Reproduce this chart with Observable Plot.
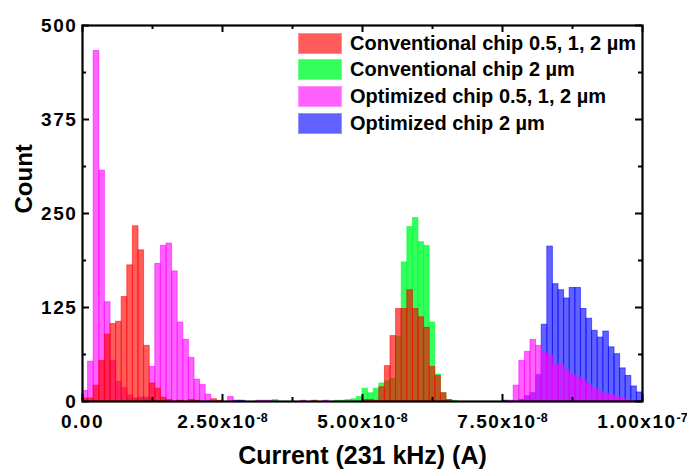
<!DOCTYPE html>
<html>
<head>
<meta charset="utf-8">
<script src="https://cdn.jsdelivr.net/npm/d3@7"></script>
<script src="https://cdn.jsdelivr.net/npm/@observablehq/plot@0.6"></script>
<style>
  html, body { margin: 0; padding: 0; background: #fff; }
  #wrap { position: relative; width: 687px; height: 470px; overflow: hidden; }
  #legend { position: absolute; left: 298px; top: 30px; font-family: "Liberation Sans", Arial, sans-serif; font-weight: bold; font-size: 20px; color: #000; }
  .row { display: flex; align-items: center; height: 26.6px; }
  .sw { width: 44px; height: 21px; box-sizing: border-box; margin-right: 8px; }
</style>
</head>
<body>
<div id="wrap">
  <div id="chart"></div>
  <div id="legend"></div>
</div>
<script>
// Histogram bins: 100 bins of width 1e-9 A from 0 to 1e-7 A
const binWidth = 1e-9;

// Conventional chip 0.5, 1, 2 µm
const conv051 = [
  4, 4, 21, 54, 89, 103, 106, 139, 181, 233,
  201, 74, 24, 17, 5, 2, 0, 1, 0, 2,
  1, 0, 0, 3, 1, 0, 0, 0, 0, 0,
  0, 0, 0, 0, 0, 0, 0, 0, 0, 0,
  0, 1, 0, 0, 0, 0, 0, 0, 0, 0,
  2, 2, 1, 19, 47, 87, 123, 123, 148, 123,
  112, 98, 46, 34, 11, 2, 0, 0, 0, 0,
  0, 0, 0, 0, 0, 0, 0, 0, 0, 0,
  0, 0, 0, 0, 0, 0, 0, 0, 0, 0,
  0, 0, 0, 0, 0, 0, 0, 0, 0, 0
];
// Conventional chip 2 µm
const conv2 = [
  2, 0, 0, 0, 0, 0, 0, 0, 3, 3,
  3, 3, 2, 0, 0, 0, 0, 0, 0, 0,
  0, 0, 0, 0, 0, 0, 0, 0, 0, 0,
  0, 0, 0, 0, 2, 0, 0, 0, 0, 0,
  0, 0, 0, 0, 0, 1, 1, 2, 3, 6,
  17, 11, 17, 24, 27, 30, 86, 185, 232, 244,
  212, 207, 105, 36, 11, 2, 1, 0, 0, 0,
  0, 0, 0, 0, 0, 0, 0, 0, 0, 0,
  0, 0, 0, 0, 0, 0, 0, 0, 0, 0,
  0, 0, 0, 0, 0, 0, 0, 0, 0, 0
];
// Optimized chip 0.5, 1, 2 µm
const opt051 = [
  14, 53, 466, 307, 132, 54, 26, 18, 8, 4,
  5, 5, 46, 183, 207, 210, 173, 105, 82, 58,
  29, 22, 9, 0, 0, 0, 6, 0, 0, 0,
  0, 1, 1, 1, 0, 0, 0, 0, 0, 1,
  0, 0, 0, 1, 0, 0, 0, 0, 0, 0,
  0, 0, 0, 0, 0, 0, 0, 0, 0, 0,
  0, 0, 0, 0, 0, 0, 0, 0, 0, 0,
  0, 0, 0, 0, 0, 0, 1, 21, 54, 66,
  82, 74, 66, 61, 48, 49, 42, 35, 32, 28,
  23, 17, 13, 10, 8, 6, 4, 1, 1, 0
];
// Optimized chip 2 µm
const opt2 = [
  0, 0, 0, 0, 0, 0, 0, 0, 0, 0,
  0, 0, 0, 0, 0, 0, 0, 0, 0, 0,
  0, 0, 0, 0, 0, 0, 0, 1, 1, 0,
  0, 0, 0, 0, 0, 0, 0, 0, 0, 0,
  0, 0, 0, 0, 0, 0, 0, 0, 0, 0,
  0, 0, 0, 0, 0, 0, 0, 0, 0, 0,
  0, 0, 0, 0, 0, 0, 0, 0, 0, 0,
  0, 0, 0, 0, 0, 1, 0, 0, 2, 7,
  11, 35, 102, 206, 156, 148, 137, 151, 151, 123,
  110, 94, 85, 93, 72, 63, 44, 34, 20, 12
];

const seriesNames = ["Conventional chip 0.5, 1, 2 µm", "Conventional chip 2 µm", "Optimized chip 0.5, 1, 2 µm", "Optimized chip 2 µm"];
const seriesColors = ["#FF0000", "#00FF33", "#FF00FF", "#0000FF"];
const seriesOpacity = [0.64, 0.8, 0.62, 0.62];
const seriesValues = [conv051, conv2, opt051, opt2];
const drawOrder = [3, 1, 2, 0]; // blue, green, magenta, red on top

const yTicks = [0, 125, 250, 375, 500];
const yMinorTicks = [62.5, 187.5, 312.5, 437.5];
const xTicks = [0, 2.5e-8, 5e-8, 7.5e-8, 1e-7];
const xMinorTicks = [1.25e-8, 3.75e-8, 6.25e-8, 8.75e-8];
const xTickMain = ["0.00", "2.50x10", "5.00x10", "7.50x10", "1.00x10"];
const xTickExp = ["", "-8", "-8", "-8", "-7"];
const xTitle = "Current (231 kHz) (A)";
const yTitle = "Count";

const W = 687, H = 470, mL = 82, mR = 45, mT = 25, mB = 69;
const plotW = W - mL - mR, plotH = H - mT - mB;

function rows(values) {
  return values.map((c, i) => ({x1: i * binWidth, x2: (i + 1) * binWidth, count: c})).filter(d => d.count > 0);
}

const barMarks = drawOrder.map(k => Plot.rect(rows(seriesValues[k]), {
  x1: "x1", x2: "x2", y1: 0, y2: "count",
  fill: seriesColors[k], fillOpacity: seriesOpacity[k],
  stroke: seriesColors[k], strokeOpacity: 0.55, strokeWidth: 1
}));

const tickStyle = {stroke: "black", strokeWidth: 2};
const fmt = d => {
  const i = xTicks.findIndex(v => Math.abs(v - d) < 1e-12);
  return i < 0 ? "" : xTickMain[i] + "|" + xTickExp[i];
};

const chart = Plot.plot({
  width: W, height: H,
  marginLeft: mL, marginRight: mR, marginTop: mT, marginBottom: mB,
  style: {fontFamily: "'Liberation Sans', Arial, sans-serif", fontWeight: "bold", background: "white", color: "black", overflow: "visible"},
  x: {domain: [0, 1e-7]},
  y: {domain: [0, 500]},
  marks: [
    ...barMarks,
    Plot.tickY(yTicks, {y: d => d, insetRight: plotW - 7, ...tickStyle}),
    Plot.tickY(yTicks, {y: d => d, insetLeft: plotW - 7, ...tickStyle}),
    Plot.tickY(yMinorTicks, {y: d => d, insetRight: plotW - 4, ...tickStyle}),
    Plot.tickY(yMinorTicks, {y: d => d, insetLeft: plotW - 4, ...tickStyle}),
    Plot.tickX(xTicks, {x: d => d, insetTop: plotH - 7, ...tickStyle}),
    Plot.tickX(xTicks, {x: d => d, insetBottom: plotH - 7, ...tickStyle}),
    Plot.tickX(xMinorTicks, {x: d => d, insetTop: plotH - 4, ...tickStyle}),
    Plot.tickX(xMinorTicks, {x: d => d, insetBottom: plotH - 4, ...tickStyle}),
    Plot.frame({stroke: "black", strokeWidth: 2.2}),
    Plot.axisY({ticks: yTicks, tickSize: 0, tickPadding: 5, tickFormat: d => String(d), label: null, fontSize: 19, fontWeight: "bold"}),
    Plot.axisX({ticks: xTicks, tickSize: 0, tickPadding: 13, tickFormat: fmt, label: null, fontSize: 19, fontWeight: "bold"}),
    Plot.text([xTitle], {text: d => d, frameAnchor: "bottom", dy: 62, fontSize: 25, fontWeight: "bold", fill: "black"}),
    Plot.text([yTitle], {text: d => d, frameAnchor: "left", dx: -58, rotate: -90, fontSize: 24, fontWeight: "bold", fill: "black"})
  ]
});
document.getElementById("chart").appendChild(chart);

// tick label styling: letter spacing, superscript exponents
const svg = d3.select(chart);
svg.selectAll('g[aria-label="y-axis tick label"] text').style("letter-spacing", "1.6px");
svg.selectAll('g[aria-label="x-axis tick label"] text').each(function() {
  const t = d3.select(this);
  const s = t.text();
  if (!s.includes("|")) return;
  const [main, exp] = s.split("|");
  t.text(main).style("letter-spacing", "1.5px");
  if (exp) {
    t.append("tspan").attr("dy", "-0.45em").attr("font-size", "12.5px").style("letter-spacing", "0px").text(exp);
  }
});

// legend
const legend = d3.select("#legend");
seriesNames.forEach((name, k) => {
  const r = legend.append("div").attr("class", "row");
  const fillC = d3.interpolateRgb("white", seriesColors[k])(seriesOpacity[k]);
  const edgeC = d3.interpolateRgb("white", seriesColors[k])(seriesOpacity[k] * 0.7);
  r.append("div").attr("class", "sw").style("background", fillC).style("border", "1.5px solid " + edgeC);
  r.append("span").text(name);
});
</script>
</body>
</html>
